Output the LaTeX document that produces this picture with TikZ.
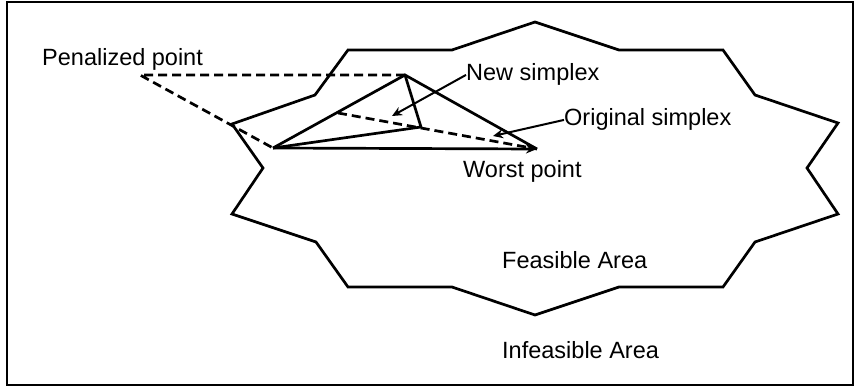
\documentclass[tikz,border=0pt]{standalone}
\usepackage{fontspec}
\setmainfont{Liberation Sans}
\usetikzlibrary{arrows.meta}
\begin{document}
\begin{tikzpicture}[x=1pt,y=-1pt,
  lbl/.style={anchor=base west,inner sep=0pt,font=\fontsize{23.5}{28}\selectfont},
  edge/.style={line width=2.7pt,line join=miter},
  dashedge/.style={line width=2.7pt,dash pattern=on 9pt off 5pt},
  pointer/.style={line width=2pt,-{Stealth[length=10pt,width=9pt]}},
  tipped/.style={line width=2.7pt,-{Stealth[length=11pt,width=9pt]}}]
\useasboundingbox (0,0) rectangle (854,387);
% outer frame: the infeasible region
\draw[line width=2.6pt] (7,2) rectangle (853,385);

% feasible region boundary
\draw[edge] (535,22) -- (619,50) -- (723,50) -- (755,95) -- (838,123)
  -- (807,168) -- (838,214) -- (755,242) -- (723,287) -- (619,287)
  -- (535,315) -- (452,287) -- (348,287) -- (316,242) -- (232,214)
  -- (263,168) -- (232,124) -- (315,95) -- (348,50) -- (452,50) -- cycle;

% simplex vertices
\coordinate (A) at (405,75);
\coordinate (B) at (273,148);
\coordinate (C) at (421,127);
\coordinate (W) at (537,149);
\coordinate (P) at (140,75);
\coordinate (D) at (338,113);

% penalized reflection
\draw[dashedge] (A) -- (P) -- (B);
% original and new simplex
\draw[edge] (B) -- (A) -- (W);
\draw[edge] (A) -- (C) -- (B);
\draw[tipped] (B) -- (W);
\draw[dashedge] (D) -- (W);

% labels
\node[lbl] (pen) at (42,66) {Penalized point};
\node[lbl] (new) at (466,81) {New simplex};
\node[lbl] (orig) at (564,126) {Original simplex};
\node[lbl] (worst) at (463,178) {Worst point};
\node[lbl] (feas) at (502,269) {Feasible Area};
\node[lbl] (infeas) at (502,358) {Infeasible Area};

% label pointers
\coordinate (newtip) at (392,116);
\coordinate (origtip) at (493,136);
\draw[pointer] (new.west) -- (newtip);
\draw[pointer] (orig.west) -- (origtip);
\end{tikzpicture}
\end{document}
